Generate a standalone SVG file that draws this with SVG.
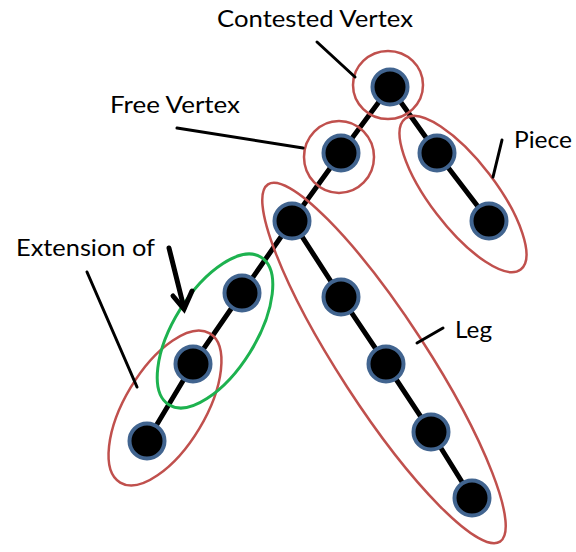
<svg xmlns="http://www.w3.org/2000/svg" width="576" height="552" viewBox="0 0 576 552">
  <style>
    .edge { stroke: #000; stroke-width: 5; stroke-linecap: round; fill: none; }
    .lead { stroke: #000; stroke-width: 3; stroke-linecap: round; fill: none; }
    .node { fill: #000; stroke: #41648f; stroke-width: 4; }
    .red { fill: none; stroke: #c0504d; stroke-width: 2.5; }
    .green { fill: none; stroke: #1db24f; stroke-width: 3; }
    .label { font-family: "Lato", "Liberation Sans", sans-serif; font-size: 23px; fill: #000; }
  </style>
  <rect width="576" height="552" fill="#fff"/>

  <!-- tree edges -->
  <g id="connectors">
    <line class="edge" x1="390" y1="87" x2="341" y2="153"/>
    <line class="edge" x1="390" y1="87" x2="437" y2="153"/>
    <line class="edge" x1="437" y1="153" x2="489" y2="221"/>
    <line class="edge" x1="341" y1="153" x2="292" y2="221"/>
    <polyline class="edge" points="292,221 341,297 386,364 431,432 472,498"/>
    <polyline class="edge" points="292,221 242,293 193,364 147,441"/>
  </g>

  <!-- vertices -->
  <g id="v-contested"><circle class="node" cx="390" cy="87" r="17.5"/></g>
  <g id="v-free"><circle class="node" cx="341" cy="153" r="17.5"/></g>
  <g id="v-piece1"><circle class="node" cx="437" cy="153" r="17.5"/></g>
  <g id="v-piece2"><circle class="node" cx="489" cy="221" r="17.5"/></g>
  <g id="v-leg1"><circle class="node" cx="292" cy="221" r="17.5"/></g>
  <g id="v-leg2"><circle class="node" cx="341" cy="297" r="17.5"/></g>
  <g id="v-leg3"><circle class="node" cx="386" cy="364" r="17.5"/></g>
  <g id="v-leg4"><circle class="node" cx="431" cy="432" r="17.5"/></g>
  <g id="v-leg5"><circle class="node" cx="472" cy="498" r="17.5"/></g>
  <g id="v-ext1"><circle class="node" cx="242" cy="293" r="17.5"/></g>
  <g id="v-ext2"><circle class="node" cx="193" cy="364" r="17.5"/></g>
  <g id="v-ext3"><circle class="node" cx="147" cy="441" r="17.5"/></g>

  <!-- grouping outlines -->
  <g id="outlines">
    <ellipse class="red" cx="388" cy="85" rx="35" ry="34"/>
    <ellipse class="red" cx="339" cy="157" rx="35" ry="36"/>
    <ellipse class="red" transform="translate(463 194) rotate(52.6)" rx="95" ry="33"/>
    <ellipse class="red" transform="translate(384 363) rotate(57)" rx="213" ry="44"/>
    <ellipse class="red" transform="translate(165 408) rotate(-59)" rx="87" ry="40"/>
    <ellipse class="green" transform="translate(215 331) rotate(-58)" rx="87" ry="41"/>
  </g>

  <!-- labels with leader lines -->
  <g id="lbl-contested">
    <text class="label" x="217" y="27" textLength="196" lengthAdjust="spacingAndGlyphs">Contested Vertex</text>
    <line class="lead" x1="317" y1="42" x2="355" y2="77"/>
  </g>
  <g id="lbl-free">
    <text class="label" x="110" y="113" textLength="130" lengthAdjust="spacingAndGlyphs">Free Vertex</text>
    <line class="lead" x1="177" y1="128" x2="303" y2="148"/>
  </g>
  <g id="lbl-piece">
    <text class="label" x="514" y="148" textLength="58" lengthAdjust="spacingAndGlyphs">Piece</text>
    <line class="lead" x1="502" y1="140" x2="493" y2="177"/>
  </g>
  <g id="lbl-leg">
    <text class="label" x="455" y="338" textLength="37" lengthAdjust="spacingAndGlyphs">Leg</text>
    <line class="lead" x1="417" y1="343" x2="443" y2="328"/>
  </g>
  <g id="lbl-extension">
    <text class="label" x="16" y="256" textLength="139" lengthAdjust="spacingAndGlyphs">Extension of</text>
    <line class="lead" x1="87" y1="272" x2="137" y2="387"/>
    <line x1="169" y1="248" x2="184" y2="308" stroke="#000" stroke-width="5" stroke-linecap="round"/>
    <polyline points="173,296 184,309 192,291" fill="none" stroke="#000" stroke-width="5" stroke-linecap="round" stroke-linejoin="miter"/>
  </g>
</svg>
